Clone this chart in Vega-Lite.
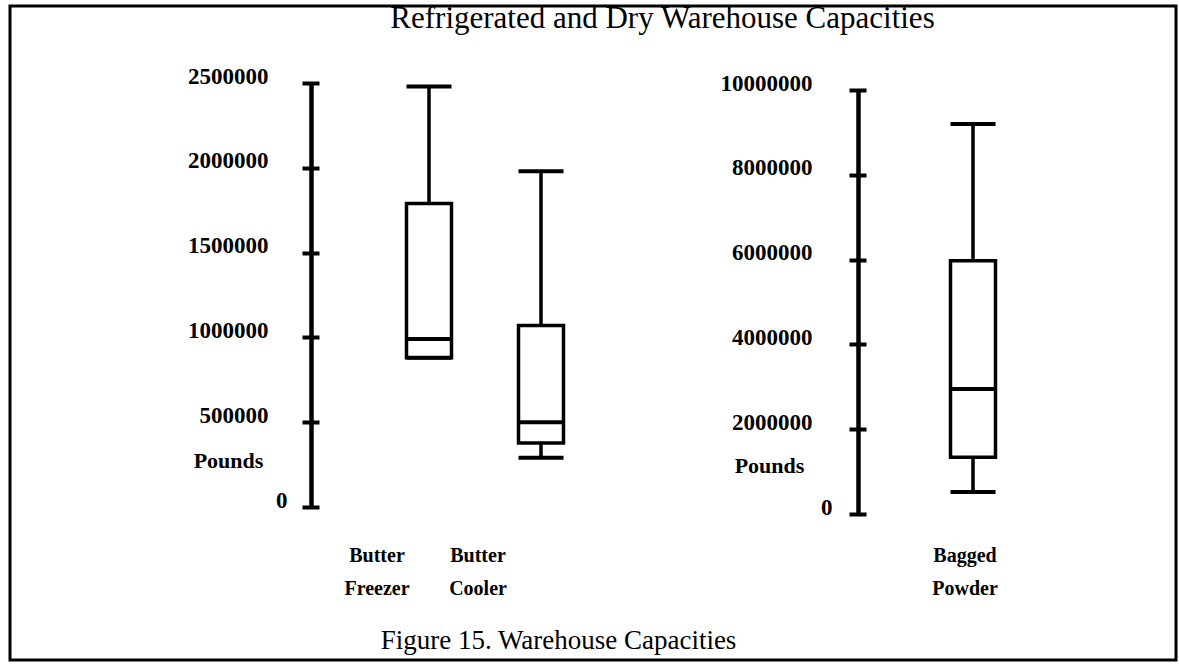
{
  "$schema": "https://vega.github.io/schema/vega-lite/v6.json",
  "width": 1166,
  "height": 654,
  "autosize": {"type": "none"},
  "padding": {"left": 10, "top": 6, "right": 3, "bottom": 6},
  "background": "white",
  "config": {
    "view": {"stroke": "black", "strokeWidth": 3},
    "font": "Liberation Serif",
    "axis": {"labelFont": "Liberation Serif", "titleFont": "Liberation Serif", "labelColor": "black", "titleColor": "black", "grid": false, "titleFontWeight": "normal"}
  },
  "datasets": {
    "refrigerated": [
      {"warehouse": "Butter Freezer", "min": 880000, "q1": 880000, "median": 990000, "q3": 1790000, "max": 2480000},
      {"warehouse": "Butter Cooler", "min": 290000, "q1": 377000, "median": 500000, "q3": 1070000, "max": 1980000}
    ],
    "dry": [
      {"warehouse": "Bagged Powder", "min": 520000, "q1": 1340000, "median": 2950000, "q3": 5970000, "max": 9200000}
    ]
  },
  "layer": [
    {
      "data": {"name": "refrigerated"},
      "mark": {"type": "rule", "color": "black", "strokeWidth": 3.5},
      "encoding": {
        "x": {"field": "warehouse", "type": "nominal",
          "scale": {"type": "band", "domain": ["Butter Freezer", "Butter Cooler"], "range": [363, 587], "paddingInner": 0, "paddingOuter": 0},
          "axis": {"orient": "bottom", "offset": -120, "domain": false, "ticks": false, "labelPadding": 5, "labelFontSize": 20, "labelFontWeight": "bold", "labelExpr": "split(datum.label, ' ')", "labelLineHeight": 33, "labelBaseline": "top", "labelAngle": 0,
            "labelOffset": {"condition": {"test": "datum.value === 'Butter Freezer'", "value": -52}, "value": -63},
            "title": "Refrigerated and Dry Warehouse Capacities", "titleX": 652, "titleY": -522, "titleAlign": "center", "titleBaseline": "middle", "titleFontSize": 31}},
        "y": {"field": "min", "type": "quantitative",
          "scale": {"domain": [0, 2500000], "range": [501, 77], "nice": false, "zero": false},
          "axis": {"orient": "left", "offset": -301, "domain": true, "domainWidth": 4.5, "domainColor": "black", "ticks": false, "labels": false, "title": null}},
        "y2": {"field": "max"}
      }
    },
    {
      "data": {"name": "refrigerated"},
      "mark": {"type": "bar", "width": 45, "fill": "white", "stroke": "black", "strokeWidth": 3.5},
      "encoding": {
        "x": {"field": "warehouse", "type": "nominal",
          "scale": {"type": "band", "domain": ["Butter Freezer", "Butter Cooler"], "range": [363, 587], "paddingInner": 0, "paddingOuter": 0},
          "axis": null},
        "y": {"field": "q1", "type": "quantitative",
          "scale": {"domain": [0, 2500000], "range": [501, 77], "nice": false, "zero": false},
          "axis": {"orient": "left", "offset": -309, "domain": false, "ticks": true, "tickSize": 17, "tickWidth": 4, "tickColor": "black",
            "values": [0, 500000, 1000000, 1500000, 2000000, 2500000], "format": "d", "labelFontSize": 23, "labelFontWeight": "bold",
            "labelPadding": {"condition": {"test": "datum.value === 0", "value": 15}, "value": 34}, "labelOffset": -7,
            "title": "Pounds", "titleAngle": 0, "titleX": -91, "titleY": 454, "titleAlign": "center", "titleBaseline": "middle", "titleFontSize": 22, "titleFontWeight": "bold"}},
        "y2": {"field": "q3"}
      }
    },
    {
      "data": {"name": "refrigerated"},
      "mark": {"type": "tick", "size": 45, "thickness": 4, "color": "black", "opacity": 1},
      "encoding": {
        "x": {"field": "warehouse", "type": "nominal",
          "scale": {"type": "band", "domain": ["Butter Freezer", "Butter Cooler"], "range": [363, 587], "paddingInner": 0, "paddingOuter": 0}, "axis": null},
        "y": {"field": "median", "type": "quantitative",
          "scale": {"domain": [0, 2500000], "range": [501, 77], "nice": false, "zero": false}, "axis": null}
      }
    },
    {
      "data": {"name": "refrigerated"},
      "mark": {"type": "tick", "size": 45, "thickness": 4, "color": "black", "opacity": 1},
      "encoding": {
        "x": {"field": "warehouse", "type": "nominal",
          "scale": {"type": "band", "domain": ["Butter Freezer", "Butter Cooler"], "range": [363, 587], "paddingInner": 0, "paddingOuter": 0}, "axis": null},
        "y": {"field": "max", "type": "quantitative",
          "scale": {"domain": [0, 2500000], "range": [501, 77], "nice": false, "zero": false}, "axis": null}
      }
    },
    {
      "data": {"name": "refrigerated"},
      "mark": {"type": "tick", "size": 45, "thickness": 4, "color": "black", "opacity": 1},
      "encoding": {
        "x": {"field": "warehouse", "type": "nominal",
          "scale": {"type": "band", "domain": ["Butter Freezer", "Butter Cooler"], "range": [363, 587], "paddingInner": 0, "paddingOuter": 0}, "axis": null},
        "y": {"field": "min", "type": "quantitative",
          "scale": {"domain": [0, 2500000], "range": [501, 77], "nice": false, "zero": false}, "axis": null}
      }
    },
    {
      "data": {"name": "dry"},
      "mark": {"type": "rule", "color": "black", "strokeWidth": 3.5},
      "encoding": {
        "x": {"field": "warehouse", "type": "nominal",
          "scale": {"type": "band", "domain": ["Bagged Powder"], "range": [907, 1019], "paddingInner": 0, "paddingOuter": 0},
          "axis": {"orient": "bottom", "offset": -120, "domain": false, "ticks": false, "labelPadding": 5, "labelFontSize": 20, "labelFontWeight": "bold", "labelExpr": "split(datum.label, ' ')", "labelLineHeight": 33, "labelBaseline": "top", "labelAngle": 0, "labelOffset": -8,
            "title": "Figure 15.  Warehouse Capacities", "titleX": 548, "titleY": 100, "titleAlign": "center", "titleBaseline": "middle", "titleFontSize": 27}},
        "y": {"field": "min", "type": "quantitative",
          "scale": {"domain": [0, 10000000], "range": [508, 84], "nice": false, "zero": false},
          "axis": {"orient": "left", "offset": -848, "domain": true, "domainWidth": 4.5, "domainColor": "black", "ticks": false, "labels": false, "title": null}},
        "y2": {"field": "max"}
      }
    },
    {
      "data": {"name": "dry"},
      "mark": {"type": "bar", "width": 45, "fill": "white", "stroke": "black", "strokeWidth": 3.5},
      "encoding": {
        "x": {"field": "warehouse", "type": "nominal",
          "scale": {"type": "band", "domain": ["Bagged Powder"], "range": [907, 1019], "paddingInner": 0, "paddingOuter": 0}, "axis": null},
        "y": {"field": "q1", "type": "quantitative",
          "scale": {"domain": [0, 10000000], "range": [508, 84], "nice": false, "zero": false},
          "axis": {"orient": "left", "offset": -856, "domain": false, "ticks": true, "tickSize": 17, "tickWidth": 4, "tickColor": "black",
            "values": [0, 2000000, 4000000, 6000000, 8000000, 10000000], "format": "d", "labelFontSize": 23, "labelFontWeight": "bold",
            "labelPadding": {"condition": {"test": "datum.value === 0", "value": 17}, "value": 37}, "labelOffset": -7,
            "title": "Pounds", "titleAngle": 0, "titleX": -97, "titleY": 459, "titleAlign": "center", "titleBaseline": "middle", "titleFontSize": 22, "titleFontWeight": "bold"}},
        "y2": {"field": "q3"}
      }
    },
    {
      "data": {"name": "dry"},
      "mark": {"type": "tick", "size": 45, "thickness": 4, "color": "black", "opacity": 1},
      "encoding": {
        "x": {"field": "warehouse", "type": "nominal",
          "scale": {"type": "band", "domain": ["Bagged Powder"], "range": [907, 1019], "paddingInner": 0, "paddingOuter": 0}, "axis": null},
        "y": {"field": "median", "type": "quantitative",
          "scale": {"domain": [0, 10000000], "range": [508, 84], "nice": false, "zero": false}, "axis": null}
      }
    },
    {
      "data": {"name": "dry"},
      "mark": {"type": "tick", "size": 45, "thickness": 4, "color": "black", "opacity": 1},
      "encoding": {
        "x": {"field": "warehouse", "type": "nominal",
          "scale": {"type": "band", "domain": ["Bagged Powder"], "range": [907, 1019], "paddingInner": 0, "paddingOuter": 0}, "axis": null},
        "y": {"field": "max", "type": "quantitative",
          "scale": {"domain": [0, 10000000], "range": [508, 84], "nice": false, "zero": false}, "axis": null}
      }
    },
    {
      "data": {"name": "dry"},
      "mark": {"type": "tick", "size": 45, "thickness": 4, "color": "black", "opacity": 1},
      "encoding": {
        "x": {"field": "warehouse", "type": "nominal",
          "scale": {"type": "band", "domain": ["Bagged Powder"], "range": [907, 1019], "paddingInner": 0, "paddingOuter": 0}, "axis": null},
        "y": {"field": "min", "type": "quantitative",
          "scale": {"domain": [0, 10000000], "range": [508, 84], "nice": false, "zero": false}, "axis": null}
      }
    }
  ],
  "resolve": {"scale": {"x": "independent", "y": "independent"}, "axis": {"x": "independent", "y": "independent"}}
}
